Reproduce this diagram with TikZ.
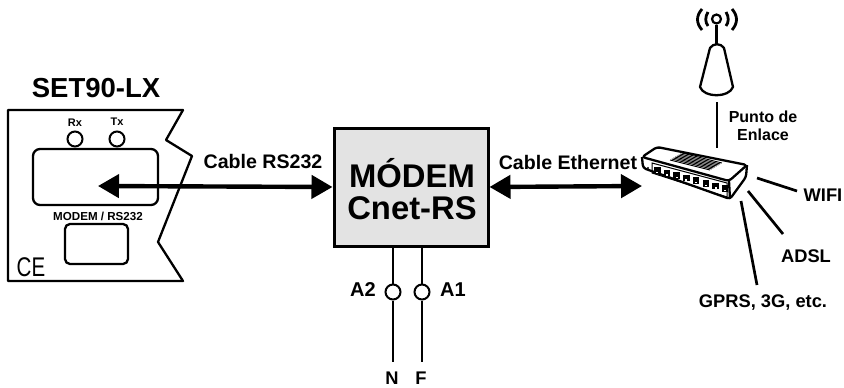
\documentclass[tikz,border=0pt]{standalone}
\usepackage{fontspec}
\setmainfont{Liberation Sans}
\usetikzlibrary{arrows.meta}
\tikzset{
	lbl/.style={font=\fontsize{19.6}{23}\selectfont\bfseries,inner sep=0pt},
	outlbl/.style={font=\fontsize{18.3}{22}\selectfont\bfseries,inner sep=0pt},
	pwrlbl/.style={font=\fontsize{20}{24}\selectfont\bfseries,inner sep=0pt},
	tinylbl/.style={font=\fontsize{11}{13}\selectfont\bfseries,inner sep=0pt},
	bigl/.style={font=\fontsize{32.8}{39}\selectfont\bfseries,inner sep=0pt},
	hole/.style={circle,draw,line width=2pt,minimum size=15pt,inner sep=0pt},
	wire/.style={line width=2.7pt},
	biarrow/.style={line width=4.4pt,{Triangle[width=23pt,length=21pt]}-{Triangle[width=23pt,length=21pt]}},
	edgeln/.style={line width=2.3pt,line join=round},
}
\begin{document}
\begin{tikzpicture}[x=1pt,y=-1pt]
	\useasboundingbox (0,0) rectangle (844,388);
	
	% Equipo SET90-LX
	\draw[edgeln] (8,110) -- (183,110) -- (166,140) -- (192,156) -- (158,242) -- (183,281) -- (8,281) -- cycle;
	\node[font=\fontsize{27.5}{33}\selectfont\bfseries,inner sep=0pt] (set90) at (96,88) {SET90-LX};
	\draw[edgeln,rounded corners=7pt] (33,149) rectangle (158,205);
	\draw[edgeln,rounded corners=5pt] (65,224) rectangle (128,264);
	\node[hole] (rx) at (75,139) {};
	\node[hole] (tx) at (117,139) {};
	\node[tinylbl] (rxlbl) at (75,123) {Rx};
	\node[tinylbl] (txlbl) at (117,122) {Tx};
	\node[tinylbl,font=\fontsize{11.6}{14}\selectfont\bfseries] (portlbl) at (98,216) {MODEM / RS232};
	\node[font=\fontsize{27}{30}\selectfont,inner sep=0pt,xscale=0.76] (ce) at (31,267) {CE};
	
	% Modem
	\node[draw,line width=3pt,fill=black!11,minimum width=154pt,minimum height=118pt,inner sep=0pt] (modem) at (411,187) {};
	\node[bigl] (modem1) at (412,173) {MÓDEM};
	\node[bigl] (modem2) at (412,208) {Cnet-RS};
	
	% Flechas
	\coordinate (disp) at (98,186);
	\coordinate (eth) at (642,186);
	\draw[biarrow] (disp) -- (modem.west);
	\draw[biarrow] (modem.east) -- (eth);
	\node[lbl] (rs232) at (263,162) {Cable RS232};
	\node[lbl] (ethlbl) at (568,162) {Cable Ethernet};
	
	% Alimentacion
	\foreach \n/\x/\t in {a2/393/N,a1/422/F} {
		\node[hole,fill=white] (\n) at (\x,292) {};
		\node[outlbl] (\t) at (\x-1,378) {\t};
		\draw[wire] (modem.south -| \n) -- (\n);
		\draw[wire] (\n) -- (\x,362);
	}
	\node[pwrlbl] (a2lbl) at (363,290) {A2};
	\node[pwrlbl] (a1lbl) at (453,290) {A1};
	
	% Router
	\draw[edgeln,fill=white,rounded corners=3pt] (642,157) -- (657,147) -- (747,165) -- (729,181) -- cycle;
	\draw[edgeln,rounded corners=3pt] (642,157) -- (643,168) -- (730,199) -- (746,177) -- (747,165);
	\draw[edgeln] (729,181) -- (730,199);
	\draw[line width=1pt] (652,163) -- (727,183) -- (727,197) -- (652,173) -- cycle;
	\fill (648,168) circle (1.2pt);
	\foreach \k in {0,...,7} {
		\fill ({654+9.7*\k},{167+2.6*\k}) rectangle ++(6.5,6.5);
		\fill[white] ({656.3+9.7*\k},{171.5+2.6*\k}) rectangle ++(2,1.4);
	}
	\foreach \k in {0,...,7} {
		\draw[line width=0.9pt] ({670+\k*1.7},{160-\k*1}) -- ({710+\k*1.7},{170-\k*1});
	}
	
	% Antena
	\node[circle,draw,line width=2.2pt,minimum size=9pt,inner sep=0pt] (antc) at (716.5,19) {};
	\draw[edgeln,fill=white] (710,48) -- (700,87) .. controls (704,98) and (729,98) .. (733,87) -- (724,48) .. controls (721,43) and (713,43) .. (710,48) -- cycle;
	\coordinate (antbase) at (716.5,45);
	\draw[line width=2.6pt] (antc) -- (antbase);
	\draw[line width=2.8pt] (708,12) .. controls (705,17) and (705,22) .. (708,26);
	\draw[line width=2.8pt] (702,9) .. controls (696,16) and (696,23) .. (702,30);
	\draw[line width=2.8pt] (726,12) .. controls (729,17) and (729,22) .. (726,26);
	\draw[line width=2.8pt] (732,9) .. controls (738,16) and (738,23) .. (732,30);
	\coordinate (antend) at (717,102);
	\coordinate (rtop) at (717,148);
	\draw[wire] (antend) -- (rtop);
	\node[font=\fontsize{16}{18.5}\selectfont\bfseries,inner sep=0pt,align=center] (enlace) at (763,126) {Punto de\\Enlace};
	
	% Salidas del router
	\node[outlbl] (wifi) at (823,195) {WIFI};
	\node[outlbl] (adsl) at (806,256) {ADSL};
	\node[outlbl] (gprs) at (763,303) {GPRS, 3G, etc.};
	\coordinate (wifia) at (757,178);
	\coordinate (adsla) at (748,191);
	\coordinate (gprsa) at (741,201);
	\coordinate (wifib) at (797,191);
	\coordinate (adslb) at (783,234);
	\coordinate (gprsb) at (757,285);
	\draw[wire] (wifia) -- (wifib);
	\draw[wire] (adsla) -- (adslb);
	\draw[wire] (gprsa) -- (gprsb);
	
\end{tikzpicture}
\end{document}
